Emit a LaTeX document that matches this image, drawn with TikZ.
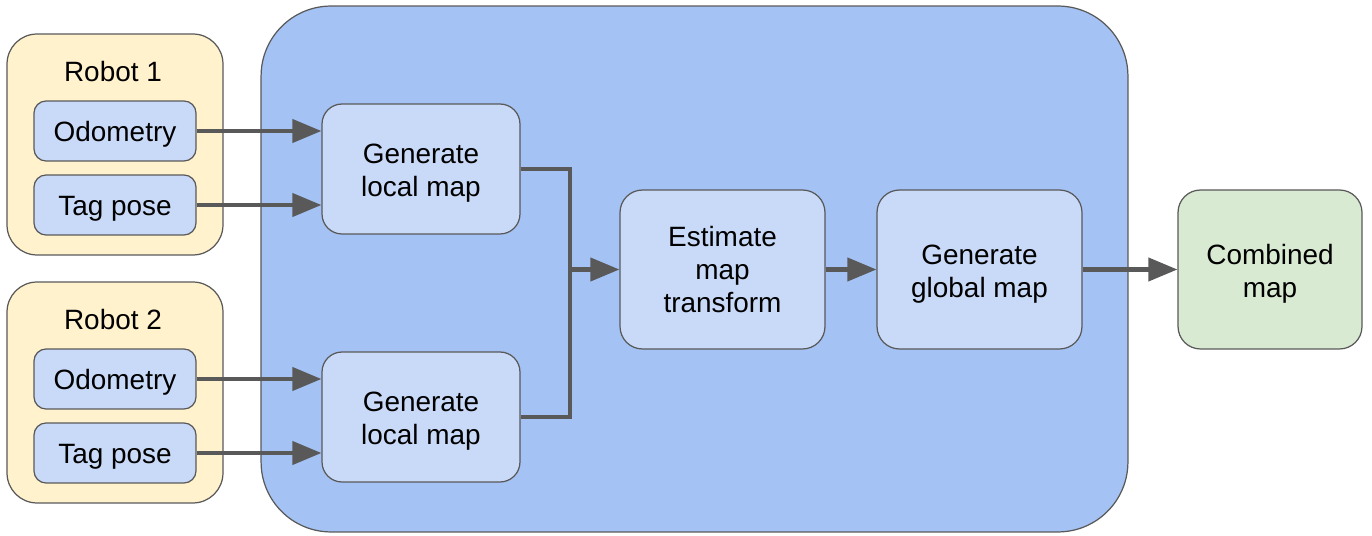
\documentclass[tikz,border=0pt]{standalone}
\usepackage{fontspec}
\setmainfont{Liberation Sans}
\usetikzlibrary{arrows.meta}
\definecolor{robotfill}{HTML}{FFF2CC}
\definecolor{stepfill}{HTML}{C9DAF8}
\definecolor{corefill}{HTML}{A4C2F4}
\definecolor{outfill}{HTML}{D9EAD3}
\definecolor{edgegray}{HTML}{595959}
\begin{document}
\begin{tikzpicture}[x=0.02cm,y=-0.02cm,
    every node/.style={font=\fontsize{15.9}{18.8}\selectfont,align=center},
    box/.style={draw=edgegray,line width=0.7pt,rectangle,inner sep=0pt},
    lowtext/.style={text height=15.6pt},
    lowpair/.style={text height=35pt},
    robotbox/.style={box,fill=robotfill,rounded corners=0.6cm,minimum width=4.32cm,minimum height=4.42cm},
    srcbox/.style={box,lowtext,fill=stepfill,rounded corners=0.24cm,minimum width=3.24cm,minimum height=1.2cm},
    procbox/.style={box,fill=stepfill,rounded corners=0.45cm,minimum width=4.1cm,minimum height=3.18cm},
    flow/.style={draw=edgegray,line width=2.3pt,-{Triangle[length=0.58cm,width=0.46cm]}},
    link/.style={draw=edgegray,line width=2.3pt}]
  \useasboundingbox (0,0) rectangle (1372,536);
  % robots
  \node [robotbox] (robot1) at (115,144.5) {};
  \node [robotbox] (robot2) at (115,392.5) {};
  \node (title1) at (113,72) {Robot 1};
  \node (title2) at (113,320) {Robot 2};
  \node [srcbox] (odo1) at (115,131) {Odometry};
  \node [srcbox] (tag1) at (115,205) {Tag pose};
  \node [srcbox] (odo2) at (115,379) {Odometry};
  \node [srcbox] (tag2) at (115,453) {Tag pose};
  % mapping stage
  \node [box,fill=corefill,rounded corners=1.4cm,minimum width=17.34cm,minimum height=10.52cm]
    (core) at (694.5,269) {};
  \node [procbox,lowpair,rounded corners=0.4cm,minimum width=3.96cm,minimum height=2.6cm]
    (local1) at (421,169) {Generate\\local map};
  \node [procbox,lowpair,rounded corners=0.4cm,minimum width=3.96cm,minimum height=2.6cm]
    (local2) at (421,417) {Generate\\local map};
  \node [procbox] (estimate) at (722.5,269.5) {Estimate\\map\\transform};
  \node [procbox,lowpair] (global) at (979.5,269.5) {Generate\\global map};
  \node [procbox,lowpair,fill=outfill,minimum width=3.68cm] (combined) at (1270,269.5) {Combined\\map};
  % connectors
  \coordinate (merge) at (570,269.5);
  \draw [flow] (odo1.east) -- (odo1.east -| local1.west);
  \draw [flow] (tag1.east) -- (tag1.east -| local1.west);
  \draw [flow] (odo2.east) -- (odo2.east -| local2.west);
  \draw [flow] (tag2.east) -- (tag2.east -| local2.west);
  \draw [link] (local1.east) -| (merge) |- (local2.east);
  \draw [flow] (merge) -- (estimate.west);
  \draw [flow] (estimate.east) -- (global.west);
  \draw [flow] (global.east) -- (combined.west);
\end{tikzpicture}
\end{document}
